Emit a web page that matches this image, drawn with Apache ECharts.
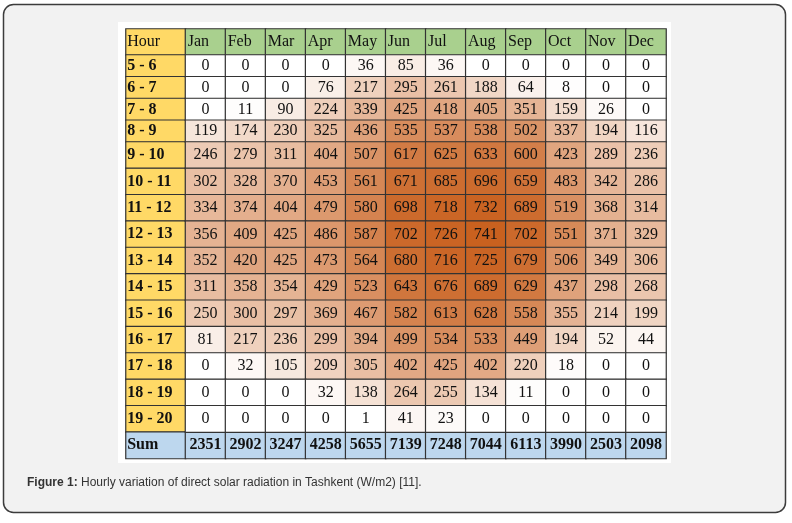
<!DOCTYPE html>
<html><head><meta charset="utf-8">
<script src="https://cdn.jsdelivr.net/npm/echarts@6/dist/echarts.min.js"></script>
<style>html,body{margin:0;padding:0;background:#fff}#c{width:792px;height:523px}</style>
</head><body><div id="c"></div>
<script>
// ---- data ----
const cornerLabel = 'Hour';
const sumLabel = 'Sum';
const months = ['Jan','Feb','Mar','Apr','May','Jun','Jul','Aug','Sep','Oct','Nov','Dec'];
const hours = ['5 - 6','6 - 7','7 - 8','8 - 9','9 - 10','10 - 11','11 - 12','12 - 13','13 - 14','14 - 15','15 - 16','16 - 17','17 - 18','18 - 19','19 - 20'];
const h05_06 = [0,0,0,0,36,85,36,0,0,0,0,0];
const h06_07 = [0,0,0,76,217,295,261,188,64,8,0,0];
const h07_08 = [0,11,90,224,339,425,418,405,351,159,26,0];
const h08_09 = [119,174,230,325,436,535,537,538,502,337,194,116];
const h09_10 = [246,279,311,404,507,617,625,633,600,423,289,236];
const h10_11 = [302,328,370,453,561,671,685,696,659,483,342,286];
const h11_12 = [334,374,404,479,580,698,718,732,689,519,368,314];
const h12_13 = [356,409,425,486,587,702,726,741,702,551,371,329];
const h13_14 = [352,420,425,473,564,680,716,725,679,506,349,306];
const h14_15 = [311,358,354,429,523,643,676,689,629,437,298,268];
const h15_16 = [250,300,297,369,467,582,613,628,558,355,214,199];
const h16_17 = [81,217,236,299,394,499,534,533,449,194,52,44];
const h17_18 = [0,32,105,209,305,402,425,402,220,18,0,0];
const h18_19 = [0,0,0,32,138,264,255,134,11,0,0,0];
const h19_20 = [0,0,0,0,1,41,23,0,0,0,0,0];
const sums = [2351,2902,3247,4258,5655,7139,7248,7044,6113,3990,2503,2098];
const captionBold = 'Figure 1:';
const captionText = ' Hourly variation of direct solar radiation in Tashkent (W/m2) [11].';

const valueRows = [h05_06,h06_07,h07_08,h08_09,h09_10,h10_11,h11_12,h12_13,h13_14,h14_15,h15_16,h16_17,h17_18,h18_19,h19_20];

// ---- layout ----
const colsX = [{left:126,width:59.5},{left:185.5,width:480.5}];
const rowsY = [{top:29,height:26},{top:55,height:87},{top:142,height:316.5}];
const rowCats = [[cornerLabel], hours.slice(0,4), hours.slice(4).concat([sumLabel])];
const colCats = [[cornerLabel], months];

const grids=[], xAxes=[], yAxes=[];
rowsY.forEach((ry,r)=>colsX.forEach((cx,c)=>{
  const gi = grids.length;
  grids.push({left:cx.left, width:cx.width, top:ry.top, height:ry.height});
  xAxes.push({type:'category', gridIndex:gi, data:colCats[c], show:false});
  yAxes.push({type:'category', gridIndex:gi, data:rowCats[r], show:false, inverse:true});
}));

const FONT = 'Liberation Serif';
const border = {borderColor:'#333', borderWidth:1.2};
const noEmph = {disabled:true};
function cellSeries(gi, data, color, labelOpt){
  return {type:'heatmap', xAxisIndex:gi, yAxisIndex:gi, data:data,
    itemStyle:Object.assign({color:color}, border), emphasis:noEmph,
    label:Object.assign({show:true, fontFamily:FONT, fontSize:16, color:'#111'}, labelOpt)};
}
const series = [];
// corner
series.push(cellSeries(0, [[0,0,0]], '#ffd966', {position:'insideLeft', distance:2, formatter:()=>cornerLabel}));
// month headers
series.push(cellSeries(1, months.map((m,i)=>[i,0,i]), '#a9d08e', {position:'insideLeft', distance:3, formatter:p=>months[p.value[0]]}));
// hour labels (small rows)
series.push(cellSeries(2, rowCats[1].map((h,i)=>[0,i,i]), '#ffd966', {position:'insideLeft', distance:2, fontWeight:'bold', formatter:p=>rowCats[1][p.value[1]]}));
// hour labels (big rows)
series.push(cellSeries(4, hours.slice(4).map((h,i)=>[0,i,i]), '#ffd966', {position:'insideLeft', distance:2, fontWeight:'bold', formatter:p=>rowCats[2][p.value[1]]}));
// sum label
series.push(cellSeries(4, [[0,11,0]], '#bdd7ee', {position:'insideLeft', distance:2, fontWeight:'bold', formatter:()=>sumLabel}));
// sum values
series.push(cellSeries(5, sums.map((v,i)=>[i,11,v]), '#bdd7ee', {fontWeight:'bold', formatter:p=>p.value[2]}));
// values
const valSmall = [], valBig = [];
valueRows.forEach((row,r)=>row.forEach((v,c)=>{ if(r<4) valSmall.push([c,r,v]); else valBig.push([c,r-4,v]); }));
const vsIdx = series.length;
series.push({type:'heatmap', xAxisIndex:3, yAxisIndex:3, data:valSmall, itemStyle:border, emphasis:noEmph,
  label:{show:true, fontFamily:FONT, fontSize:16, color:'#111', formatter:p=>p.value[2]}});
series.push({type:'heatmap', xAxisIndex:5, yAxisIndex:5, data:valBig, itemStyle:border, emphasis:noEmph,
  label:{show:true, fontFamily:FONT, fontSize:16, color:'#111', formatter:p=>p.value[2]}});

const chart = echarts.init(document.getElementById('c'));
chart.setOption({
  animation:false,
  graphic:[
    {type:'rect', z:-10, shape:{x:3.5,y:4.5,width:782,height:508,r:10}, style:{fill:'#f2f2f2', stroke:'#3c3c3c', lineWidth:1.5}},
    {type:'rect', z:-9, shape:{x:118,y:22,width:553,height:441}, style:{fill:'#ffffff'}},
    {type:'text', left:27, top:477, style:{text:'{b|'+captionBold+'}'+captionText, font:'12px "Liberation Sans"', fill:'#333',
      rich:{b:{fontWeight:'bold', fontFamily:'Liberation Sans', fontSize:12, fill:'#333'}}}}
  ],
  grid:grids, xAxis:xAxes, yAxis:yAxes,
  visualMap:{show:false, type:'continuous', min:0, max:741, seriesIndex:[vsIdx, vsIdx+1], dimension:2,
    inRange:{color:['#ffffff','#c9611f']}},
  series:series
});
</script></body></html>
